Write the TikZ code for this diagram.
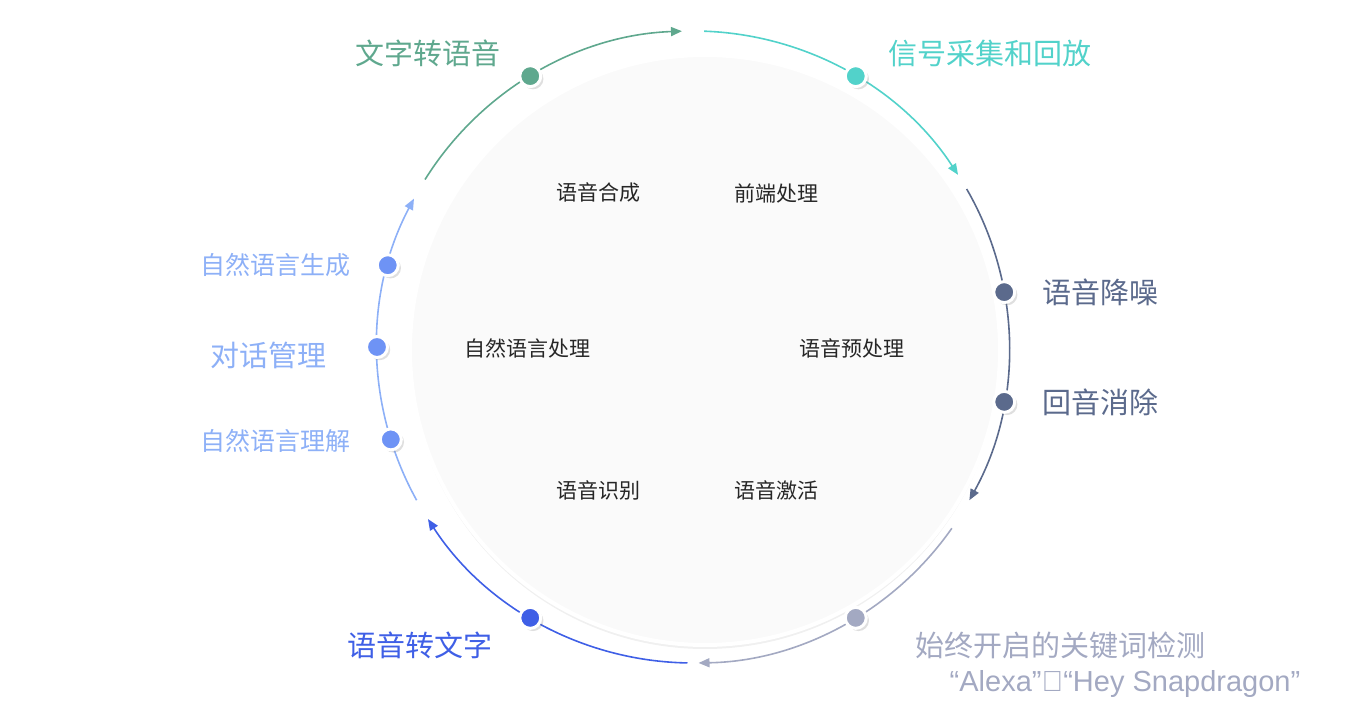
\documentclass[tikz,border=0pt]{standalone}
\usepackage{fontspec}
\setmainfont{Noto Sans CJK SC}
\newfontfamily\latinfont{Liberation Sans}
\usetikzlibrary{arrows.meta, shadows, calc}

\definecolor{cteal}{HTML}{5FA88E}
\definecolor{ccyan}{HTML}{52D2CA}
\definecolor{cslate}{HTML}{5B6A8C}
\definecolor{cgrey}{HTML}{A3A9C2}
\definecolor{cblue}{HTML}{3F5FE6}
\definecolor{clight}{HTML}{8DB0F7}
\definecolor{cdot}{HTML}{6E93F5}

\begin{document}
\begin{tikzpicture}[
        x = 1pt, y = 1pt,
        > = {Triangle[width=9pt,length=11pt]}, % arrow head style
        ring/.style = {line width=1.6pt},
        dot/.style = {circle, minimum size=21pt, inner sep=0pt,
            draw=white, line width=3pt, drop shadow={opacity=0.25}},
        outer/.style = {font=\fontsize{29}{32}\selectfont},
        inner/.style = {font=\fontsize{21}{24}\selectfont, text=black!85}
    ]

    \useasboundingbox (0,0) rectangle (1363,719);
    \coordinate (c) at (693,372);

    % inner disc
    \node[circle, minimum size=590pt, fill=gray!4, draw=white, line width=4pt,
        drop shadow={opacity=0.12, shadow xshift=0pt, shadow yshift=-4pt}] (disc) at (705,369) {};

    % ring segments
    \draw[ring, cteal, ->] (c) ++(148:316) arc[start angle=148, end angle=92, radius=316];
    \draw[ring, ccyan, ->] (c) ++(88:316) arc[start angle=88, end angle=33, radius=316];
    \draw[ring, cslate, ->] (c) ++(30:316) arc[start angle=30, end angle=-29, radius=316];
    \draw[ring, cgrey, ->] (c) ++(-35:316) arc[start angle=-35, end angle=-89, radius=316];
    \draw[ring, cblue, ->] (c) ++(-91:316) arc[start angle=-91, end angle=-147, radius=316];
    \draw[ring, clight, ->] (c) ++(-151:316) arc[start angle=-151, end angle=-208, radius=316];

    % dots
    \foreach \ang/\col/\name in {121/cteal/tts, 59/ccyan/sig, 10/cslate/nr,
            -10/cslate/aec, -59/cgrey/kws, -121/cblue/asr,
            165/cdot/nlg, 180/cdot/dm, 197/cdot/nlu} {
        \node[dot, fill=\col] (\name) at ($(c)+(\ang:316)$) {};
    }

    % outer labels
    \node[outer, text=cteal] (ttsl) at (428,666) {文字转语音};
    \node[outer, text=ccyan] (sigl) at (990,666) {信号采集和回放};
    \node[outer, text=cslate] (nrl) at (1100,427) {语音降噪};
    \node[outer, text=cslate] (aecl) at (1100,317) {回音消除};
    \node[outer, text=cgrey] (kwsl) at (1060,74) {始终开启的关键词检测};
    \node[outer, text=cgrey, font=\latinfont\fontsize{29}{32}\selectfont] (kwsq) at (1125,35) {“Alexa”、“Hey Snapdragon”};
    \node[outer, text=cblue] (asrl) at (420,74) {语音转文字};
    \node[outer, text=clight, font=\fontsize{25}{28}\selectfont] (nlgl) at (275,454) {自然语言生成};
    \node[outer, text=clight] (dml) at (268,364) {对话管理};
    \node[outer, text=clight, font=\fontsize{25}{28}\selectfont] (nlul) at (275,278) {自然语言理解};

    % inner labels
    \node[inner] (syn) at (598,526) {语音合成};
    \node[inner] (fe) at (776,526) {前端处理};
    \node[inner] (nlp) at (527,371) {自然语言处理};
    \node[inner] (pre) at (852,371) {语音预处理};
    \node[inner] (rec) at (598,229) {语音识别};
    \node[inner] (act) at (776,229) {语音激活};

\end{tikzpicture}
\end{document}
